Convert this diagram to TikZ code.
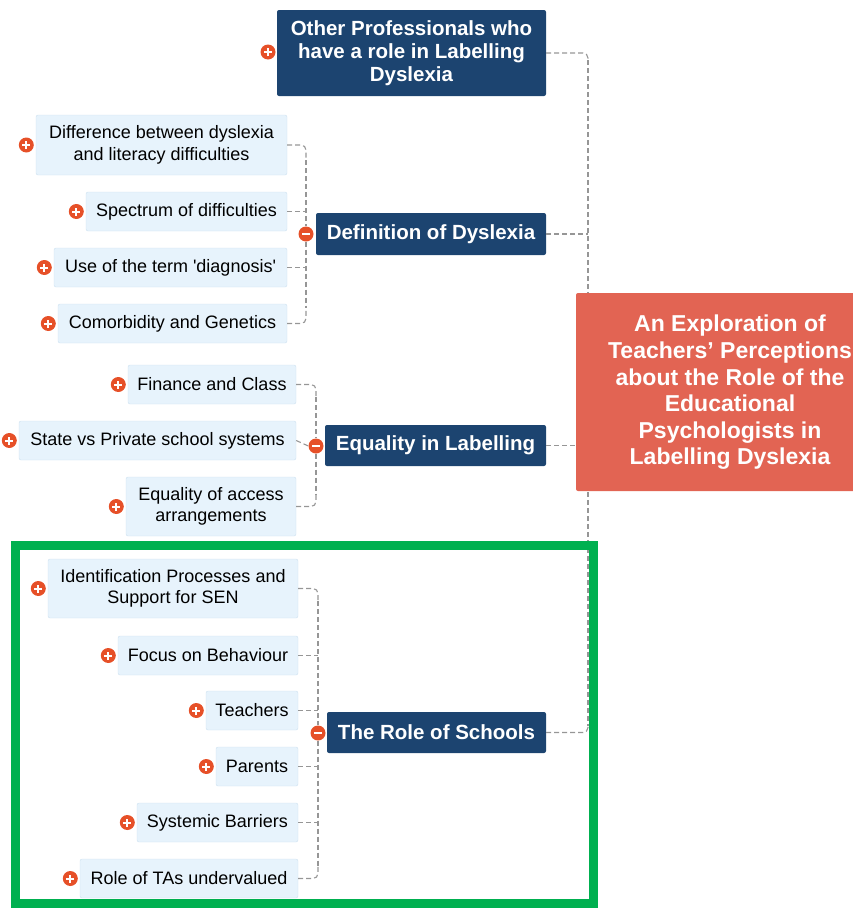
\documentclass[tikz,border=0pt]{standalone}
\usepackage{fontspec}
\newfontfamily\arialf{Liberation Sans}
\definecolor{navy}{RGB}{28,68,112}
\definecolor{childfill}{RGB}{231,243,252}
\definecolor{childline}{RGB}{205,225,240}
\definecolor{mainred}{RGB}{226,100,83}
\definecolor{iconred}{RGB}{230,80,40}
\definecolor{conn}{RGB}{150,150,150}
\definecolor{frame}{RGB}{0,176,80}
\tikzset{
  childbox/.style={draw=childline, fill=childfill, rounded corners=2pt, inner sep=0pt, align=center, text=black, font=\arialf\fontsize{18}{21.5}\selectfont},
  topicbox/.style={fill=navy, rounded corners=2pt, inner sep=0pt, align=center, text=white, font=\arialf\bfseries\fontsize{20.5}{23}\selectfont},
  mainbox/.style={fill=mainred, rounded corners=2pt, inner sep=0pt},
  maintxt/.style={font=\arialf\bfseries\fontsize{23}{26.6}\selectfont, text=white, align=center, inner sep=0pt},
  link/.style={draw=conn, line width=1.1pt, dash pattern=on 5pt off 3pt, rounded corners=5pt},
  plusicon/.style={circle, fill=iconred, minimum size=15pt, inner sep=0pt, path picture={\draw[white, line width=2pt] ([xshift=-4pt]path picture bounding box.center) -- ([xshift=4pt]path picture bounding box.center) ([yshift=-4pt]path picture bounding box.center) -- ([yshift=4pt]path picture bounding box.center);}},
  minusicon/.style={circle, fill=iconred, minimum size=15pt, inner sep=0pt, path picture={\draw[white, line width=2pt] ([xshift=-4pt]path picture bounding box.center) -- ([xshift=4pt]path picture bounding box.center);}}
}
\begin{document}
\begin{tikzpicture}[x=1pt,y=-1pt]
\useasboundingbox (0,0) rectangle (853,908);
\begin{scope}
\clip (0,0) rectangle (853,908);
% trunk
\coordinate (tk1) at (588,60);
\coordinate (tk2) at (588,726);
\draw[link] (tk1) -- (tk2);
% main
\node[mainbox, minimum width=300, minimum height=198] (main) at (726,392) {};
\node[maintxt] (maintext) at (730,392.5) {An Exploration of\\Teachers’ Perceptions\\about the Role of the\\Educational\\Psychologists in\\Labelling Dyslexia};
\end{scope}

% Other professionals
\node[topicbox, minimum width=269, minimum height=86] (op) at (411.5,53) {Other Professionals who\\have a role in Labelling\\Dyslexia};
\node[plusicon] (opi) at (268,52) {};
\draw[link] (op.east) -| (tk1);

% Definition
\node[topicbox, minimum width=230, minimum height=42] (def) at (431,234) {Definition of Dyslexia};
\node[minusicon] (defi) at (306,234) {};
\coordinate (deft) at (588,234);
\draw[link] (def.east) -- (deft);
\node[childbox, minimum width=251, minimum height=60] (d1) at (161.5,145) {Difference between dyslexia\\and literacy difficulties};
\node[childbox, minimum width=201, minimum height=39] (d2) at (186.5,211.5) {Spectrum of difficulties};
\node[childbox, minimum width=233, minimum height=39] (d3) at (170.5,267.5) {Use of the term 'diagnosis'};
\node[childbox, minimum width=229, minimum height=39] (d4) at (172.5,323.5) {Comorbidity and Genetics};
\foreach \n in {d1,d2,d3,d4} \node[plusicon] at ([xshift=-9.5pt]\n.west) {};
\coordinate (db1) at (306,160);
\coordinate (db2) at (306,308);
\draw[link] (d1.east) -| (db1);
\draw[link] (d4.east) -| (db2);
\draw[link] (db1) -- (defi.north);
\draw[link] (defi.south) -- (db2);
\draw[link] (d2.east) -- (d2.east -| defi.north);
\draw[link] (d3.east) -- (d3.east -| defi.north);

% Equality
\node[topicbox, minimum width=221, minimum height=41] (eq) at (435.5,445.5) {Equality in Labelling};
\node[minusicon] (eqi) at (316,446) {};
\draw[link] (eq.east) -- (main.west |- eq.east);
\node[childbox, minimum width=168, minimum height=39] (e1) at (212,384.5) {Finance and Class};
\node[childbox, minimum width=277, minimum height=39] (e2) at (157.5,440.5) {State vs Private school systems};
\node[childbox, minimum width=170, minimum height=59] (e3) at (211,506.5) {Equality of access\\arrangements};
\foreach \n in {e1,e2,e3} \node[plusicon] at ([xshift=-9.5pt]\n.west) {};
\coordinate (eb1) at (316,397);
\coordinate (eb2) at (316,494);
\draw[link] (e1.east) -| (eb1);
\draw[link] (e3.east) -| (eb2);
\draw[link] (eb1) -- (eqi.north);
\draw[link] (eqi.south) -- (eb2);
\draw[link] (e2.east) -- (eqi.west);

% Role of schools
\node[topicbox, minimum width=219, minimum height=41] (rs) at (436.5,732.5) {The Role of Schools};
\node[minusicon] (rsi) at (318,733) {};
\draw[link] (rs.east) -| (tk2);
\node[childbox, minimum width=250, minimum height=59] (r1) at (173,588.5) {Identification Processes and\\Support for SEN};
\node[childbox, minimum width=180, minimum height=39] (r2) at (208,655.5) {Focus on Behaviour};
\node[childbox, minimum width=92, minimum height=39] (r3) at (252,710.5) {Teachers};
\node[childbox, minimum width=82, minimum height=39] (r4) at (257,766.5) {Parents};
\node[childbox, minimum width=161, minimum height=39] (r5) at (217.5,822.5) {Systemic Barriers};
\node[childbox, minimum width=218, minimum height=39] (r6) at (189,878.5) {Role of TAs undervalued};
\foreach \n in {r1,r2,r3,r4,r5,r6} \node[plusicon] at ([xshift=-9.5pt]\n.west) {};
\coordinate (rb1) at (318,601);
\coordinate (rb2) at (318,866);
\draw[link] (r1.east) -| (rb1);
\draw[link] (r6.east) -| (rb2);
\draw[link] (rb1) -- (rsi.north);
\draw[link] (rsi.south) -- (rb2);
\foreach \n in {r2,r3,r4,r5} \draw[link] (\n.east) -- (\n.east -| rsi.north);

% green frame
\draw[frame, line width=9pt] (15.5,545.5) rectangle (593.5,903);
\end{tikzpicture}
\end{document}
